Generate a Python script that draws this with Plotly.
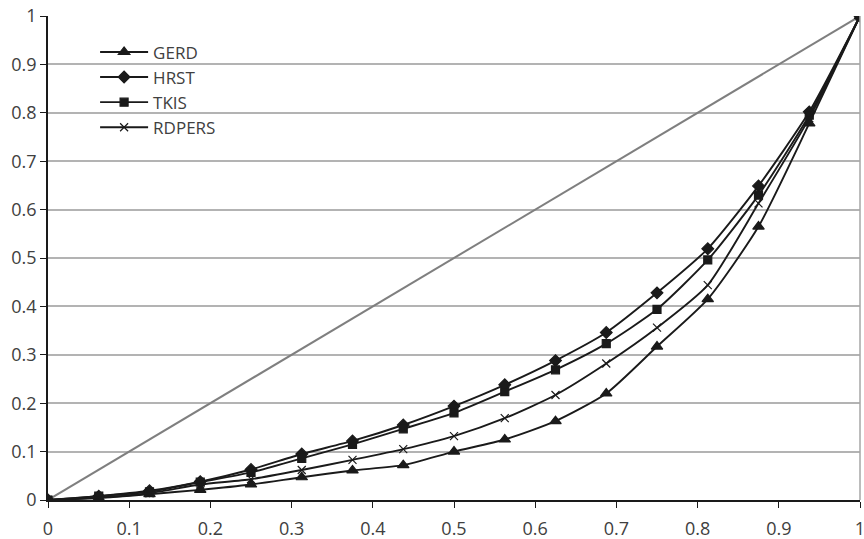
import plotly.graph_objects as go

# Cumulative population share (16 equal groups)
pop_share = [0, 0.0625, 0.125, 0.1875, 0.25, 0.3125, 0.375, 0.4375, 0.5,
             0.5625, 0.625, 0.6875, 0.75, 0.8125, 0.875, 0.9375, 1]

gerd = [0, 0.004, 0.012, 0.021, 0.032, 0.047, 0.061, 0.072, 0.100,
        0.125, 0.163, 0.220, 0.317, 0.415, 0.565, 0.778, 1]
hrst = [0, 0.008, 0.019, 0.038, 0.063, 0.095, 0.122, 0.155, 0.194,
        0.238, 0.288, 0.346, 0.428, 0.519, 0.649, 0.802, 1]
tkis = [0, 0.008, 0.017, 0.037, 0.057, 0.086, 0.115, 0.147, 0.180,
        0.224, 0.269, 0.323, 0.394, 0.496, 0.630, 0.795, 1]
rdpers = [0, 0.005, 0.014, 0.032, 0.043, 0.062, 0.083, 0.105, 0.132,
          0.169, 0.217, 0.282, 0.356, 0.444, 0.613, 0.789, 1]

equality = [0, 1]

tick_vals = [i / 10 for i in range(11)]
tick_text = ["0", "0.1", "0.2", "0.3", "0.4", "0.5", "0.6", "0.7", "0.8", "0.9", "1"]

series = [
    ("GERD", gerd, "triangle-up", 10),
    ("HRST", hrst, "diamond", 9),
    ("TKIS", tkis, "square", 8),
    ("RDPERS", rdpers, "x-thin-open", 8),
]

fig = go.Figure()

# Line of perfect equality
fig.add_trace(go.Scatter(
    x=equality, y=equality, mode="lines",
    line=dict(color="#7f7f7f", width=2),
    showlegend=False, hoverinfo="skip",
))

for name, vals, symbol, size in series:
    fig.add_trace(go.Scatter(
        x=pop_share, y=vals, name=name,
        mode="lines+markers",
        line=dict(color="#1a1a1a", width=1.9, shape="spline", smoothing=0.6),
        marker=dict(symbol=symbol, size=size, color="#1a1a1a",
                    line=dict(color="#1a1a1a", width=1.2)),
    ))

fig.update_layout(
    width=864, height=539,
    margin=dict(l=48, r=4, t=16, b=39),
    paper_bgcolor="white", plot_bgcolor="white",
    font=dict(family="Open Sans, Noto Sans, sans-serif", size=18, color="#404040"),
    showlegend=True,
    legend=dict(
        x=0.058, y=0.962, xanchor="left", yanchor="top",
        bgcolor="rgba(0,0,0,0)", borderwidth=0,
        traceorder="normal", itemwidth=48,
        font=dict(size=17, color="#404040"),
    ),
    shapes=[dict(type="line", xref="paper", yref="paper",
                 x0=1, x1=1, y0=0, y1=1,
                 line=dict(color="#a6a6a6", width=1.5))],
)

fig.update_xaxes(
    range=[0, 1], tickvals=tick_vals, ticktext=tick_text,
    showgrid=False, zeroline=False, automargin=False,
    showline=True, linecolor="#1a1a1a", linewidth=1.5,
    ticks="outside", ticklen=6, tickcolor="#1a1a1a", tickwidth=1.2,
    ticklabeloverflow="allow", ticklabelstandoff=6,
)
fig.update_yaxes(
    range=[0, 1], tickvals=tick_vals, ticktext=tick_text,
    showgrid=True, gridcolor="#b3b3b3", gridwidth=1.5, zeroline=False,
    automargin=False,
    showline=True, linecolor="#1a1a1a", linewidth=1.5,
    ticks="outside", ticklen=6, tickcolor="#1a1a1a", tickwidth=1.2,
    ticklabeloverflow="allow",
)

fig.write_html("out.html")
